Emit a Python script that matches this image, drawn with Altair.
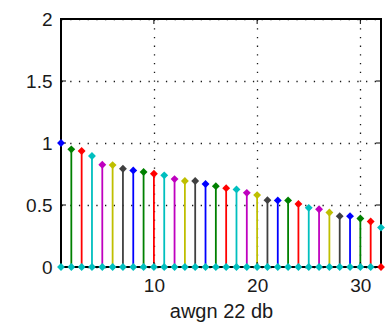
import altair as alt
import pandas as pd

# stem indices and values
xs = list(range(1, 33))
values = [1.000, 0.949, 0.935, 0.895, 0.825, 0.822, 0.792, 0.779, 0.766, 0.752,
          0.739, 0.709, 0.694, 0.694, 0.669, 0.652, 0.636, 0.626, 0.598, 0.580,
          0.539, 0.537, 0.537, 0.509, 0.477, 0.466, 0.440, 0.410, 0.410, 0.391,
          0.367, 0.318]
palette = ["#0000ff", "#008000", "#ff0000", "#00bfbf", "#bf00bf", "#bfbf00", "#404040"]
stem_colors = [palette[(i - 1) % 7] for i in xs]
base_colors = ["#00bfbf"] * 31 + ["#ff0000"]

x_ticks = [10, 20, 30]
y_ticks = [0, 0.5, 1, 1.5, 2]
y_inner = [0.5, 1, 1.5]
x_title = "awgn 22 db"

W, H = 320, 248

df = pd.DataFrame({"x": xs, "y": values, "c": stem_colors, "y0": [0] * 32,
                   "bc": base_colors})
tx = pd.DataFrame({"t": x_ticks})
ty = pd.DataFrame({"t": y_inner})

xscale = alt.Scale(domain=[1, 32], nice=False, zero=False)
yscale = alt.Scale(domain=[0, 2], nice=False)

xaxis = alt.Axis(values=x_ticks, title=x_title, grid=True, ticks=False, domain=False,
                 labelPadding=9, titlePadding=6, labelFlush=False, format="~g")
yaxis = alt.Axis(values=y_ticks, title=None, grid=True, ticks=False, domain=False,
                 labelPadding=9, labelFlush=False, format="~g")

base = alt.Chart(df)

stems = base.mark_rule(strokeWidth=1.8).encode(
    x=alt.X("x:Q", scale=xscale, axis=xaxis),
    y=alt.Y("y:Q", scale=yscale, axis=yaxis),
    y2="y0:Q",
    color=alt.Color("c:N", scale=None),
)

frame = base.mark_rect(fill=None, stroke="black", strokeWidth=2).encode(
    x=alt.value(0), x2=alt.value(W), y=alt.value(0), y2=alt.value(H)
)

tick_top = alt.Chart(tx).mark_rule(color="black", strokeWidth=1).encode(
    x=alt.X("t:Q", scale=xscale), y=alt.value(0), y2=alt.value(5))
tick_bot = alt.Chart(tx).mark_rule(color="black", strokeWidth=1).encode(
    x=alt.X("t:Q", scale=xscale), y=alt.value(H), y2=alt.value(H - 5))
tick_left = alt.Chart(ty).mark_rule(color="black", strokeWidth=1).encode(
    y=alt.Y("t:Q", scale=yscale), x=alt.value(0), x2=alt.value(5))
tick_right = alt.Chart(ty).mark_rule(color="black", strokeWidth=1).encode(
    y=alt.Y("t:Q", scale=yscale), x=alt.value(W), x2=alt.value(W - 5))

tops = base.mark_point(shape="diamond", filled=True, size=62, opacity=1).encode(
    x=alt.X("x:Q", scale=xscale),
    y=alt.Y("y:Q", scale=yscale),
    color=alt.Color("c:N", scale=None),
)
bottoms = base.mark_point(shape="diamond", filled=True, size=62, opacity=1).encode(
    x=alt.X("x:Q", scale=xscale),
    y=alt.Y("y0:Q", scale=yscale),
    color=alt.Color("bc:N", scale=None),
)

chart = alt.layer(stems, frame, tick_top, tick_bot, tick_left, tick_right, tops, bottoms).properties(
    width=W, height=H,
    autosize=alt.AutoSizeParams(type="none"),
    padding={"left": 61, "top": 19, "right": 4, "bottom": 64},
    background="white",
).configure_view(stroke=None).configure_axis(
    labelFont="Liberation Sans", labelFontSize=19, labelColor="#1a1a1a",
    titleFont="Liberation Sans", titleFontSize=20, titleFontWeight="normal",
    titleColor="#1a1a1a",
    gridColor="#000000", gridOpacity=0.9, gridWidth=1.3, gridDash=[1.3, 7.4],
)

chart.save("out.html", embed_options={"renderer": "svg", "actions": False})
